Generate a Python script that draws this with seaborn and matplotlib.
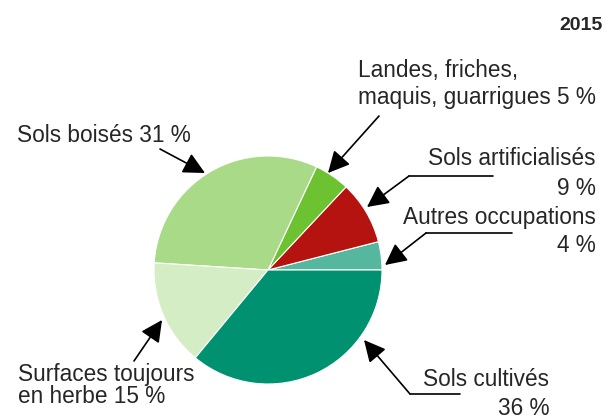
import matplotlib
matplotlib.use("Agg")
import matplotlib.pyplot as plt
import seaborn as sns

# ---------------------------------------------------------------------
# data: land use shares, 2015
categories = ["Autres occupations", "Sols artificialisés",
              "Landes, friches, maquis, guarrigues", "Sols boisés",
              "Surfaces toujours en herbe", "Sols cultivés"]
shares = [4, 9, 5, 31, 15, 36]
colors = ["#55b89e", "#b5130f", "#6cc230", "#a8da88", "#d5edc5", "#009270"]
year = "2015"

# ---------------------------------------------------------------------
sns.set_theme(style="white")
plt.rcParams["font.family"] = ["Liberation Sans", "DejaVu Sans"]

fig = plt.figure(figsize=(6.14, 4.19), dpi=100)
ax = fig.add_axes([0, 0, 1, 1])

# pixel-like coordinates, y going down (so clockwise in data = counterclockwise on screen)
ax.pie(shares, colors=colors, startangle=0, counterclock=False,
       center=(268, 270), radius=114,
       wedgeprops=dict(edgecolor="white", linewidth=0.8))
ax.set_xlim(0, 614)
ax.set_ylim(419, 0)
ax.set_aspect("auto")
ax.axis("off")

fs = 16.3
ax.text(603, 25, year, ha="right", va="center", fontsize=14, fontweight="bold")

# labels, one line at a time
ax.text(17, 135, "Sols boisés 31 %", ha="left", va="center", fontsize=fs)
ax.text(358, 70, "Landes, friches,", ha="left", va="center", fontsize=fs)
ax.text(358, 97, "maquis, guarrigues 5 %", ha="left", va="center", fontsize=fs)
ax.text(596, 158, "Sols artificialisés", ha="right", va="center", fontsize=fs)
ax.text(596, 188, "9 %", ha="right", va="center", fontsize=fs)
ax.text(596, 217, "Autres occupations", ha="right", va="center", fontsize=fs)
ax.text(596, 245, "4 %", ha="right", va="center", fontsize=fs)
ax.text(18, 374, "Surfaces toujours", ha="left", va="center", fontsize=fs)
ax.text(18, 396, "en herbe 15 %", ha="left", va="center", fontsize=fs)
ax.text(549, 379, "Sols cultivés", ha="right", va="center", fontsize=fs)
ax.text(549, 408, "36 %", ha="right", va="center", fontsize=fs)

# leader lines
ax.plot([493, 409], [176, 176], color="black", lw=1.2)
ax.plot([512, 426], [233, 233], color="black", lw=1.2)
ax.plot([460, 410], [394, 394], color="black", lw=1.2)

arrow = dict(arrowstyle="-|>,head_length=0.6,head_width=0.3", mutation_scale=22,
             lw=1.2, color="black", shrinkA=0, shrinkB=0)
arrows = [((160, 149), (205, 173)),
          ((379, 116), (328, 173)),
          ((409, 176), (367, 207)),
          ((426, 233), (385, 265)),
          ((134, 361), (162, 320)),
          ((410, 394), (364, 340))]
for tail, tip in arrows:
    ax.annotate("", xy=tip, xytext=tail, arrowprops=arrow)

fig.savefig("out.png", dpi=100)
